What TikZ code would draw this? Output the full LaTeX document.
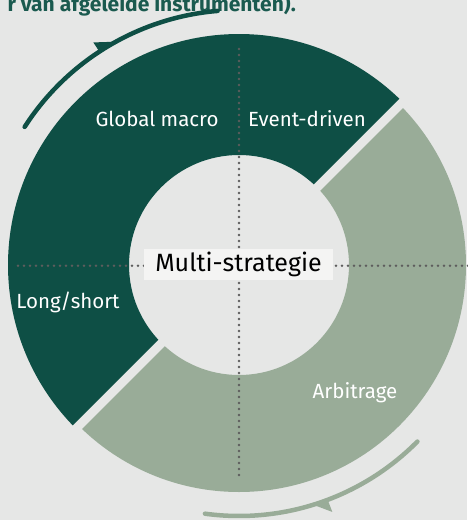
\documentclass[tikz,border=0pt]{standalone}
\usepackage{fontspec}
\setmainfont{Fira Sans}
\definecolor{bgc}{HTML}{E6E7E6}
\definecolor{darkg}{HTML}{0E4F45}
\definecolor{lightg}{HTML}{99AC98}
\definecolor{dotc}{HTML}{5D5D5D}
\definecolor{boxc}{HTML}{F4F4F3}
\definecolor{titlec}{HTML}{1A5A4F}
\begin{document}
\begin{tikzpicture}[x=1pt,y=-1pt,
  seglabel/.style={text=white,font=\fontsize{20.5}{22}\selectfont,inner sep=0pt},
  dotline/.style={dotc,line width=2.6pt,line cap=round,dash pattern=on 0pt off 6pt},
  arcline/.style={line width=4.5pt,line cap=round}]
\useasboundingbox (0,0) rectangle (467,520);
\fill[bgc] (0,0) rectangle (467,520);
\coordinate (c) at (239,265);
% title (cropped at top edge, as in the reference)
\node[anchor=base east,text=titlec,font=\fontsize{21}{23}\selectfont\bfseries,inner sep=0pt] (title) at (296,11) {r van afgeleide instrumenten).};
% dark segment
\begin{scope}
  \clip (-100,-100) -- (598,-100) -- (-100,598) -- cycle;
  \fill[darkg,even odd rule] (c) circle (231pt) (c) circle (110pt);
\end{scope}
% light segment
\begin{scope}
  \clip (611,-100) -- (800,-100) -- (800,800) -- (-100,800) -- (-100,611) -- cycle;
  \fill[lightg,even odd rule] (c) circle (227pt) (c) circle (110pt);
\end{scope}
% dotted axes
\coordinate (vt) at (239,49);
\coordinate (vb) at (239,478);
\coordinate (hl) at (18,265.7);
\coordinate (hr) at (470,265.7);
\draw[dotline] (vt) -- (vb);
\draw[dotline] (hl) -- (hr);
% outer arrows
\draw[arcline,darkg] plot[domain=-147.2:-94.8,samples=80,smooth] ({239+255*cos(\x)},{265+255*sin(\x)});
\fill[darkg] ({239+255*cos(-123.2)},{265+255*sin(-123.2)}) -- ({239+266*cos(-123.2)},{265+266*sin(-123.2)}) -- ({239+256*cos(-119.3)},{265+256*sin(-119.3)}) -- cycle;
\draw[arcline,lightg] plot[domain=44.7:97.8,samples=80,smooth] ({239+251*cos(\x)},{265+251*sin(\x)});
\fill[lightg] ({239+251*cos(69.3)},{265+251*sin(69.3)}) -- ({239+264*cos(69.3)},{265+264*sin(69.3)}) -- ({239+252*cos(72.5)},{265+252*sin(72.5)}) -- cycle;
% labels
\node[seglabel] (gm) at (157,119) {Global macro};
\node[seglabel] (ed) at (307,119) {Event-driven};
\node[seglabel] (ls) at (68,302) {Long/short};
\node[seglabel] (ar) at (355,393) {Arbitrage};
\node[fill=boxc,text=black,font=\fontsize{25}{27}\selectfont,minimum width=189pt,minimum height=31pt,inner sep=0pt] (ms) at (238.5,264.5) {Multi-strategie};
\end{tikzpicture}
\end{document}
